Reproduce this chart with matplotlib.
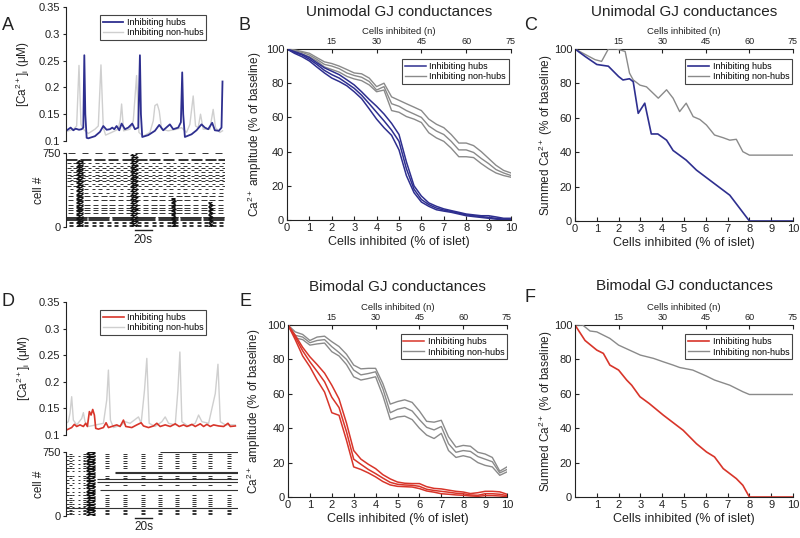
import matplotlib
matplotlib.use('Agg')
import matplotlib.pyplot as plt
from matplotlib.transforms import blended_transform_factory

plt.rcParams['font.family'] = ['Liberation Sans', 'DejaVu Sans']
plt.rcParams['mathtext.default'] = 'regular'

# ------------------------------------------------------------------ data
# Panel A: [Ca2+] traces (time s, value uM)
tA_hub = [0.0, 2.8, 5.6, 8.8, 11.6, 15.6, 18.8, 20.8, 22.0, 23.2, 24.8, 26.8, 34.8, 40.8, 44.8, 48.8,
          52.8, 55.6, 58.0, 60.8, 64.0, 66.8, 70.8, 74.8, 79.6, 82.8, 86.8, 88.8, 90.0, 91.6, 98.8,
          106.8, 112.0, 116.8, 124.8, 128.8, 134.8, 138.0, 139.6, 140.8, 142.8, 150.8, 156.8, 162.8,
          166.8, 170.8, 175.6, 178.8, 183.6, 186.8, 188.0]
cA_hub = [0.119, 0.122, 0.125, 0.120, 0.123, 0.121, 0.122, 0.125, 0.260, 0.150, 0.106, 0.105, 0.109,
          0.117, 0.128, 0.121, 0.122, 0.125, 0.122, 0.128, 0.120, 0.1325, 0.122, 0.125, 0.1325, 0.122,
          0.125, 0.260, 0.150, 0.1075, 0.111, 0.119, 0.130, 0.120, 0.131, 0.122, 0.125, 0.135, 0.228,
          0.150, 0.1075, 0.1125, 0.120, 0.131, 0.125, 0.122, 0.134, 0.120, 0.119, 0.125, 0.211]
tA_non = [0.0, 8.8, 12.8, 15.6, 18.0, 20.8, 26.8, 34.8, 38.8, 42.0, 44.8, 47.6, 54.8, 62.8, 65.2, 66.8,
          69.2, 76.8, 80.8, 84.8, 87.6, 92.8, 100.8, 104.8, 106.8, 109.6, 112.0, 114.8, 122.8, 132.8,
          138.8, 144.8, 148.8, 152.8, 155.6, 158.8, 161.6, 164.8, 172.8, 176.8, 179.6, 184.8, 188.0]
cA_non = [0.1175, 0.122, 0.128, 0.241, 0.131, 0.122, 0.114, 0.122, 0.128, 0.242, 0.125, 0.111, 0.116,
          0.122, 0.140, 0.169, 0.119, 0.122, 0.1375, 0.222, 0.116, 0.109, 0.116, 0.1375, 0.166, 0.169,
          0.156, 0.122, 0.119, 0.122, 0.125, 0.116, 0.131, 0.184, 0.128, 0.125, 0.150, 0.122, 0.122,
          0.159, 0.125, 0.116, 0.119]

# Panel D: [Ca2+] traces
tD_hub = [0.0, 2.8, 6.8, 10.0, 12.8, 16.8, 20.8, 23.6, 25.6, 28.0, 30.0, 32.0, 34.0, 35.6, 38.8, 44.8,
          48.0, 50.8, 56.8, 60.8, 64.8, 68.8, 71.6, 78.8, 84.8, 90.0, 92.8, 98.8, 104.8, 108.8, 112.8,
          118.8, 124.8, 130.8, 135.6, 140.8, 144.8, 150.8, 154.8, 160.8, 164.8, 168.8, 172.8, 176.8,
          182.8, 188.8, 194.0, 196.8, 202.8]
cD_hub = [0.109, 0.111, 0.114, 0.120, 0.116, 0.119, 0.116, 0.122, 0.116, 0.144, 0.1375, 0.148, 0.1375,
          0.1125, 0.111, 0.114, 0.123, 0.114, 0.117, 0.119, 0.116, 0.128, 0.116, 0.114, 0.119, 0.123,
          0.117, 0.114, 0.117, 0.122, 0.116, 0.119, 0.116, 0.121, 0.116, 0.119, 0.116, 0.120, 0.116,
          0.121, 0.116, 0.120, 0.116, 0.119, 0.117, 0.116, 0.122, 0.116, 0.117]
tD_non = [0.0, 2.8, 4.8, 6.8, 8.8, 12.8, 18.8, 20.8, 22.8, 26.8, 44.8, 48.8, 50.8, 53.2, 56.8, 66.8,
          70.8, 76.8, 86.8, 90.0, 94.0, 96.8, 99.6, 106.8, 114.8, 118.8, 122.8, 130.8, 134.0, 136.4,
          138.8, 146.8, 154.8, 158.8, 162.8, 170.8, 178.8, 182.0, 184.8, 190.8, 202.8]
cD_non = [0.122, 0.125, 0.141, 0.172, 0.128, 0.119, 0.131, 0.142, 0.125, 0.116, 0.122, 0.166, 0.222,
          0.128, 0.114, 0.119, 0.125, 0.122, 0.134, 0.122, 0.184, 0.244, 0.122, 0.116, 0.125, 0.134,
          0.122, 0.119, 0.184, 0.256, 0.125, 0.116, 0.122, 0.1375, 0.125, 0.122, 0.178, 0.233, 0.125,
          0.119, 0.119]

# Raster A: groups of cells sharing dash onsets (s) and dash duration (s)
rasA_cells = [[745], [688, 675], [648, 600, 560, 530, 497, 463, 412],
              [620, 580, 515, 480, 440, 385, 345], [311, 277, 226, 193, 176, 142],
              [70, 80, 90, 100, 108], [55, 40, 28, 15]]
rasA_onsets = [[3, 19, 35, 51, 67, 83, 99, 115, 131, 147, 163, 179],
               [0, 17, 34, 50, 67, 84, 100, 117, 134, 150, 167, 183],
               [1, 9, 18, 26, 35, 43, 52, 60, 69, 77, 86, 94, 103, 111, 120, 128, 137, 145, 154, 162, 171, 179, 187],
               [5, 14, 22, 31, 39, 48, 56, 65, 73, 82, 90, 99, 107, 116, 124, 133, 141, 150, 158, 167, 175, 184],
               [2, 12, 22, 32, 42, 52, 62, 72, 82, 92, 102, 112, 122, 132, 142, 152, 162, 172, 182],
               [0, 27, 55, 82, 110, 137, 165],
               [4, 13, 22, 31, 40, 49, 58, 67, 76, 85, 94, 103, 112, 121, 130, 139, 148, 157, 166, 175, 184]]
rasA_durs = [8, 13, 4.5, 4, 7, 25, 5]
burstA_start = [12, 77, 126, 170]
burstA_end = [21, 86, 132, 176]
burstA_top = [665, 730, 295, 260]
burst_rows = [5, 25, 45, 65, 85, 105, 125, 145, 165, 185, 205, 225, 245, 265, 285, 305, 325, 345,
              365, 385, 405, 425, 445, 465, 485, 505, 525, 545, 565, 585, 605, 625, 645, 665, 685,
              705, 725, 745]

# Raster D
rasD_long_cells = [742, 519, 500, 433, 402, 305, 90]
rasD_long_start = [113, 59, 59, 37, 37, 41, 0]
rasD_long_end = [206, 206, 206, 206, 206, 206, 206]
clusterD_times = [3, 20, 47, 68, 90, 110, 131, 151, 170, 193]
clusterD_cells = [725, 700, 672, 645, 615, 588, 560, 470, 440, 360, 240, 215, 190, 165, 140, 115, 75,
                  55, 35, 18]
clusterD_dur = 4.5
earlyD_cells = [700, 655, 610, 560, 520, 470, 420, 380, 330, 280, 240, 190, 140, 100, 60, 25]
earlyD_onsets = [0, 7, 14, 20]
earlyD_dur = 3
burstD_start = [24]
burstD_end = [35]
burstD_top = [750]

# Panels B/E: % of islet inhibited
pct = [0, 0.33, 0.67, 1, 1.33, 1.67, 2, 2.33, 2.67, 3, 3.33, 3.67, 4, 4.33, 4.67, 5, 5.33, 5.67,
       6, 6.33, 6.67, 7, 7.33, 7.67, 8, 8.33, 8.67, 9, 9.33, 9.67, 10]
B_hub_up = [100, 98.5, 97, 95, 92, 89, 87, 85, 82, 79, 75, 70.5, 66.5, 62, 56.5, 50, 34, 20, 14, 10,
            8, 6.5, 5.5, 4.5, 3.5, 3, 2.5, 2.5, 1.8, 1, 1]
B_hub_mid = [100, 98, 96.5, 94, 91, 87.5, 85, 83, 80, 77, 73, 68, 63, 58, 52.5, 46, 30, 18, 12, 9,
             7, 5.8, 5, 4, 3, 2.5, 2, 1.5, 1, 0.5, 0.5]
B_hub_lo = [100, 97.5, 95.5, 93, 89.5, 86, 83, 81, 78.5, 75, 71, 65, 59, 54, 49.5, 41, 26, 16, 10.5,
            8, 6, 5.2, 4.5, 3.5, 2.5, 2, 1.5, 1, 0.5, 0.2, 0.2]
B_non_up = [100, 99.5, 98.5, 97.5, 95, 92.5, 91.5, 90, 88, 86, 85.5, 83, 78, 80, 72, 70, 68, 66, 64,
            59, 56, 54, 50, 45, 45, 43.5, 40, 36, 32, 29, 27.5]
B_non_mid = [100, 99, 98, 96.5, 94, 91, 90, 88.5, 86, 84.5, 83.5, 81, 76, 78, 68, 66.5, 64, 62, 60,
             55, 52, 50, 46, 41, 41, 39.5, 36, 33, 29.5, 27.5, 26]
B_non_lo = [100, 98.5, 97, 95.5, 93, 89.5, 88, 86.5, 84, 82.5, 81.5, 79, 75, 76, 64, 63, 60.5, 59, 57,
            51, 48, 46, 42, 37, 37, 36.5, 33, 30, 27.5, 26, 25]

E_hub_up = [100, 94, 87, 81.5, 77, 72, 65, 57, 43, 27, 22, 19, 16.5, 13, 10.5, 8.7, 8, 7.8, 7.8, 6,
            5, 4.7, 4, 3.3, 2.9, 2, 2.5, 3.3, 3.3, 3, 1.6]
E_hub_mid = [100, 93, 85, 78.6, 73, 67, 58, 52, 38, 22, 19, 16, 13.6, 11, 8.5, 7.4, 7, 6.8, 6.2, 4.5,
             3.8, 3.3, 2.8, 2.2, 1.9, 1.2, 1, 1.9, 1.9, 1.6, 0.8]
E_hub_lo = [100, 91.5, 82, 75.7, 68, 61, 49, 47.5, 33, 17.5, 16, 14, 11.7, 9, 7, 6.2, 6, 5.8, 4.9,
            3.5, 2.8, 1.9, 1.6, 1.2, 1, 0.6, 0.4, 0.8, 0.8, 0.6, 0.2]
E_non_up = [100, 96, 94.5, 91, 93, 93.5, 90.3, 87.5, 83, 76.7, 74.5, 74.8, 74.8, 66, 54, 55.5, 56.5,
            55, 50, 44, 43.5, 44.6, 35, 29, 30, 29.5, 26, 25, 23, 15, 17.5]
E_non_mid = [100, 94, 93, 89.7, 91, 91.5, 87.4, 84, 80, 73.8, 71, 71.8, 72.8, 63, 49, 51, 52, 50, 45,
             40.5, 39, 41, 31, 26, 27, 26.5, 23.5, 22, 20.5, 14, 16]
E_non_lo = [100, 92.5, 91.5, 88.3, 89, 89.5, 84.5, 82, 77, 69.9, 68, 68.9, 69.9, 59, 45, 46.5, 47, 45,
            40, 36, 34, 37, 27, 23, 24, 23, 20, 18.4, 17.5, 12.6, 14.6]

# Panel C: summed Ca2+ (unimodal)
C_hub_x = [0, 0.46, 1, 1.53, 2, 2.2, 2.5, 2.67, 2.9, 3.2, 3.5, 3.8, 4.2, 4.5, 5.1, 5.57, 7.1, 8.0, 10]
C_hub_y = [100, 95.7, 91, 90, 84, 82, 82.7, 81, 62.6, 68.5, 50.6, 50.6, 47, 41, 35.4, 29.6, 15, 0, 0]
C_non_x = [0, 0.92, 1.22, 1.53, 1.9, 2.3, 2.5, 2.67, 2.98, 3.28, 3.82, 4.2, 4.5, 4.8, 5.1, 5.42, 5.73,
           6.03, 6.4, 6.8, 7.1, 7.4, 7.7, 8.0, 10]
C_non_y = [100, 93.8, 92.8, 100, 100, 98.6, 86, 82, 79, 78, 71.4, 76.3, 71.4, 63.6, 68.5, 60.7, 59,
           55.8, 50, 48.4, 47, 47.5, 40.3, 38.3, 38.3]

# Panel F: summed Ca2+ (bimodal)
F_hub_x = [0, 0.46, 1, 1.3, 1.6, 2, 2.37, 2.6, 2.98, 3.4, 4.05, 4.96, 5.57, 6.03, 6.4, 6.8, 7.4, 7.7,
           8.0, 10]
F_hub_y = [100, 91, 85.4, 83.5, 76.7, 73.8, 68, 65, 58.3, 54.4, 47.6, 38.8, 31, 26.2, 23.3, 16.5,
           10.7, 6.8, 0, 0]
F_non_x = [0, 0.35, 0.69, 1, 1.6, 2, 2.5, 3, 3.6, 4.05, 4.5, 4.8, 5.4, 6.03, 6.4, 7.1, 7.7, 8.0, 10]
F_non_y = [100, 100, 96.5, 96, 92.2, 88.3, 85.4, 82.5, 80.6, 78.6, 76.7, 75.3, 73.8, 70.3, 68, 65,
           61.2, 59.6, 59.6]

n_ticks = [15, 30, 45, 60, 75]
labels_leg = ['Inhibiting hubs', 'Inhibiting non-hubs']

# ------------------------------------------------------------------ style
BLUE = '#2e2f8f'
RED = '#d8352a'
GRAY = '#8a8a8a'
LGRAY = '#cfcfcf'
INK = '#222222'
RAS = '#333333'

fig = plt.figure(figsize=(8, 5.38), dpi=100)


def add_ax(l, t, r, b):
    return fig.add_axes([l / 800, 1 - b / 538, (r - l) / 800, (b - t) / 538])


def legend(ax, handles, loc, anchor):
    lg = ax.legend(handles, labels_leg, loc=loc, bbox_to_anchor=anchor, fontsize=6.5,
                   frameon=True, fancybox=False, framealpha=1, borderaxespad=0,
                   handlelength=2.3, handletextpad=0.4, borderpad=0.3, labelspacing=0.15)
    lg.get_frame().set_edgecolor('#444444')
    lg.get_frame().set_linewidth(0.8)
    return lg


def trace_axes(ax, xmax):
    ax.set_xlim(0, xmax)
    ax.set_ylim(0.1, 0.35)
    for s in ['top', 'right', 'bottom']:
        ax.spines[s].set_visible(False)
    ax.spines['left'].set_color(INK)
    ax.spines['left'].set_linewidth(0.8)
    ax.set_xticks([])
    ax.set_yticks([0.1, 0.15, 0.2, 0.25, 0.3, 0.35])
    ax.set_yticklabels(['0.1', '0.15', '0.2', '0.25', '0.3', '0.35'])
    ax.tick_params(axis='y', direction='out', length=2.5, labelsize=8, colors=INK, pad=2)
    ax.set_ylabel('[Ca$^{2+}$]$_i$ (\u03bcM)', fontsize=8.5, color=INK)


def raster_axes(ax, xmax, lab_x):
    ax.set_xlim(0, xmax)
    for s in ['top', 'right', 'bottom']:
        ax.spines[s].set_visible(False)
    ax.spines['left'].set_color(INK)
    ax.spines['left'].set_linewidth(0.8)
    ax.set_xticks([])
    ax.set_yticks([0, 750])
    ax.tick_params(axis='y', direction='out', length=2.5, labelsize=8, colors=INK, pad=1)
    ax.set_ylabel('cell #', fontsize=8.5, color=INK)
    ax.yaxis.set_label_coords(lab_x, 0.5)
    ax.set_ylim(0, 750)


def pct_axes(ax, ylabel, lab_x, xticks, xticklabels):
    ax.set_xlim(0, 10)
    ax.set_ylim(0, 100)
    ax.spines['right'].set_visible(False)
    ax.spines['top'].set_visible(False)
    for s in ['left', 'bottom']:
        ax.spines[s].set_color(INK)
        ax.spines[s].set_linewidth(0.8)
    ax.set_xticks(xticks)
    ax.set_xticklabels(xticklabels)
    ax.set_yticks([0, 20, 40, 60, 80, 100])
    ax.tick_params(direction='in', length=3, labelsize=8, colors=INK, width=0.8, pad=2)
    ax.set_xlabel('Cells inhibited (% of islet)', fontsize=9, color=INK, labelpad=2)
    ax.set_ylabel(ylabel, fontsize=8.5, color=INK)
    ax.yaxis.set_label_coords(lab_x, 0.5)
    sec = ax.secondary_xaxis('top', functions=(lambda p: p * 7.5, lambda n: n / 7.5))
    sec.set_xticks(n_ticks)
    sec.tick_params(direction='in', length=3, labelsize=6.5, colors=INK, width=0.8, pad=2)
    sec.spines['top'].set_color(INK)
    sec.spines['top'].set_linewidth(0.8)
    sec.set_xlabel('Cells inhibited (n)', fontsize=6.8, color=INK, labelpad=2)


def scale_bar(ax, ybar, ylab):
    tr = blended_transform_factory(ax.transData, ax.transAxes)
    ax.plot([83, 103], [ybar, ybar], color=INK, lw=1.0, transform=tr, clip_on=False)
    ax.text(93, ylab, '20s', transform=tr, ha='center', va='center', fontsize=8.5, color=INK)


def draw_groups(ax, cells_groups, onset_groups, durs, lw=0.7):
    for cells, ons, d in zip(cells_groups, onset_groups, durs):
        for c in cells:
            for o in ons:
                ax.hlines(c, o, o + d, colors=RAS, lw=lw)


def draw_bursts(ax, starts, ends, tops):
    for s, e, top in zip(starts, ends, tops):
        for i, c in enumerate(burst_rows):
            if c <= top:
                off = 1.5 if i % 2 else 0.0
                ax.hlines(c, s + off, e - 1.5 + off, colors='#111111', lw=0.9)
                ax.hlines(c + 10, s + 0.5 + off, s + 3.5 + off, colors='#111111', lw=0.7)
                ax.hlines(c + 10, e - 3.5 + off, e - 0.5, colors='#111111', lw=0.7)


# ---------------- Panel A
axA = add_ax(66, 7, 225, 141)
trace_axes(axA, 191)
axA.yaxis.set_label_coords(-0.214, 0.5)
lA2, = axA.plot(tA_non, cA_non, color=LGRAY, lw=1.0)
lA1, = axA.plot(tA_hub, cA_hub, color=BLUE, lw=1.3)
legend(axA, [lA1, lA2], 'upper left', (0.214, 0.94))

axAr = add_ax(66, 153, 225, 227.3)
raster_axes(axAr, 191, -0.132)
draw_groups(axAr, rasA_cells, rasA_onsets, rasA_durs)
draw_bursts(axAr, burstA_start, burstA_end, burstA_top)
scale_bar(axAr, -0.04, -0.165)

# ---------------- Panel D
axD = add_ax(66, 302, 238, 435)
trace_axes(axD, 206)
axD.yaxis.set_label_coords(-0.19, 0.5)
lD2, = axD.plot(tD_non, cD_non, color=LGRAY, lw=1.0)
lD1, = axD.plot(tD_hub, cD_hub, color=RED, lw=1.2)
legend(axD, [lD1, lD2], 'upper left', (0.198, 0.94))

axDr = add_ax(66, 451.7, 238, 516)
raster_axes(axDr, 206, -0.122)
for c, s, e in zip(rasD_long_cells, rasD_long_start, rasD_long_end):
    axDr.hlines(c, s, e, colors=RAS, lw=0.8)
draw_groups(axDr, [clusterD_cells], [clusterD_times], [clusterD_dur])
draw_groups(axDr, [earlyD_cells], [earlyD_onsets], [earlyD_dur])
draw_bursts(axDr, burstD_start, burstD_end, burstD_top)
scale_bar(axDr, -0.036, -0.172)

# ---------------- Panel B
axB = add_ax(287, 49, 511, 220)
pct_axes(axB, 'Ca$^{2+}$ amplitude (% of baseline)', -0.103, list(range(11)),
         [str(i) for i in range(11)])
for ys in (B_non_up, B_non_mid, B_non_lo):
    hB2, = axB.plot(pct, ys, color=GRAY, lw=1.0)
for ys in (B_hub_up, B_hub_mid, B_hub_lo):
    hB1, = axB.plot(pct, ys, color=BLUE, lw=1.1)
legend(axB, [hB1, hB2], 'upper right', (0.99, 0.94))

# ---------------- Panel C
axC = add_ax(575, 49, 793, 221)
pct_axes(axC, 'Summed Ca$^{2+}$ (% of baseline)', -0.092, list(range(11)),
         [str(i) for i in range(11)])
hC2, = axC.plot(C_non_x, C_non_y, color=GRAY, lw=1.0)
hC1, = axC.plot(C_hub_x, C_hub_y, color=BLUE, lw=1.2)
legend(axC, [hC1, hC2], 'upper right', (0.995, 0.94))

# ---------------- Panel E
axE = add_ax(288, 325, 507, 497)
pct_axes(axE, 'Ca$^{2+}$ amplitude (% of baseline)', -0.114, list(range(11)),
         [str(i) for i in range(11)])
for ys in (E_non_up, E_non_mid, E_non_lo):
    hE2, = axE.plot(pct, ys, color=GRAY, lw=1.0)
for ys in (E_hub_up, E_hub_mid, E_hub_lo):
    hE1, = axE.plot(pct, ys, color=RED, lw=1.1)
legend(axE, [hE1, hE2], 'upper right', (1.0, 0.945))

# ---------------- Panel F
axF = add_ax(575, 325, 793, 497)
pct_axes(axF, 'Summed Ca$^{2+}$ (% of baseline)', -0.092, list(range(1, 11)),
         [str(i) for i in range(1, 11)])
hF2, = axF.plot(F_non_x, F_non_y, color=GRAY, lw=1.0)
hF1, = axF.plot(F_hub_x, F_hub_y, color=RED, lw=1.2)
legend(axF, [hF1, hF2], 'upper right', (0.995, 0.945))

# ---------------- titles and panel letters
for cx, cy, txt in [(399, 12, 'Unimodal GJ conductances'), (684, 12.5, 'Unimodal GJ conductances'),
                    (397, 287, 'Bimodal GJ conductances'), (684, 286, 'Bimodal GJ conductances')]:
    fig.text(cx / 800, 1 - cy / 538, txt, ha='center', va='center', fontsize=11, color=INK)

for cx, cy, txt in [(8, 25, 'A'), (244, 25, 'B'), (531, 25, 'C'),
                    (8, 301, 'D'), (245, 301, 'E'), (530, 298, 'F')]:
    fig.text(cx / 800, 1 - cy / 538, txt, ha='center', va='center', fontsize=13, color=INK)

fig.savefig('out.png', dpi=100, facecolor='white')
